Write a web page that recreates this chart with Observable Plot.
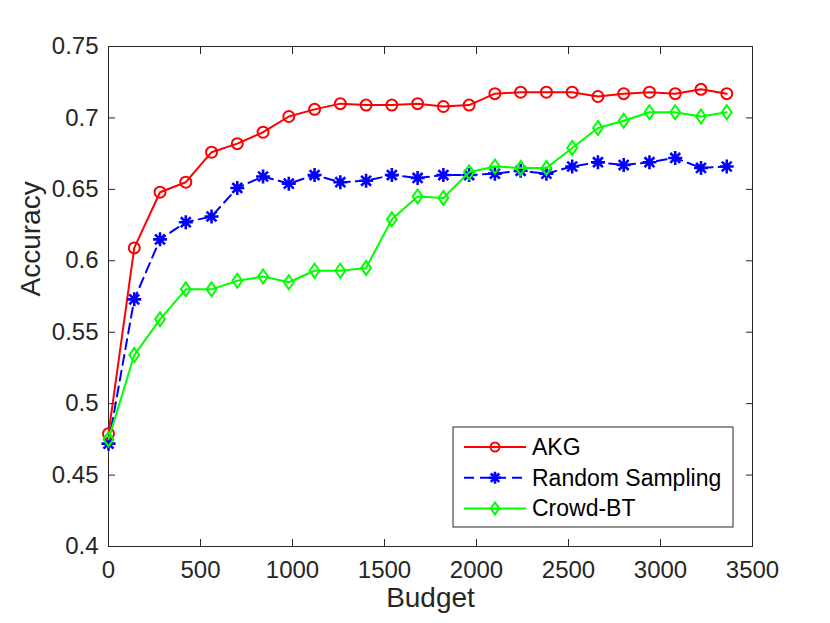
<!DOCTYPE html>
<html>
<head>
<meta charset="utf-8">
<script src="https://cdn.jsdelivr.net/npm/d3@7"></script>
<script src="https://cdn.jsdelivr.net/npm/@observablehq/plot@0.6"></script>
<style>
  html, body { margin: 0; padding: 0; background: #fff; }
  #chart { width: 830px; height: 623px; }
</style>
</head>
<body>
<div id="chart"></div>
<script>
const budgets = [0, 140, 280, 420, 560, 700, 840, 980, 1120, 1260, 1400, 1540, 1680,
                 1820, 1960, 2100, 2240, 2380, 2520, 2660, 2800, 2940, 3080, 3220, 3360];
const akg = [0.479, 0.609, 0.648, 0.655, 0.676, 0.682, 0.690, 0.701, 0.706, 0.710, 0.709, 0.709, 0.710,
             0.708, 0.709, 0.717, 0.718, 0.718, 0.718, 0.715, 0.717, 0.718, 0.717, 0.720, 0.717];
const randomSampling = [0.472, 0.573, 0.615, 0.627, 0.631, 0.651, 0.659, 0.654, 0.660, 0.655, 0.656, 0.660, 0.658,
                        0.660, 0.660, 0.661, 0.663, 0.661, 0.666, 0.669, 0.667, 0.669, 0.672, 0.665, 0.666];
const crowdBT = [0.475, 0.534, 0.559, 0.580, 0.580, 0.586, 0.589, 0.585, 0.593, 0.593, 0.595, 0.629, 0.645,
                 0.644, 0.662, 0.666, 0.665, 0.665, 0.679, 0.693, 0.698, 0.704, 0.704, 0.701, 0.704];
const seriesNames = ["AKG", "Random Sampling", "Crowd-BT"];
const xTicks = [0, 500, 1000, 1500, 2000, 2500, 3000, 3500];
const yTicks = [0.4, 0.45, 0.5, 0.55, 0.6, 0.65, 0.7, 0.75];
const xLabel = "Budget";
const yLabel = "Accuracy";

const seriesValues = [akg, randomSampling, crowdBT];
const colors = ["#ff0000", "#0000ff", "#00ff00"];
const dashes = [null, "10,6", null];

// MATLAB-like marker shapes; size -> r = sqrt(size / PI) is the half-extent
const markerCircle = {draw(ctx, size) { const r = Math.sqrt(size / Math.PI); ctx.moveTo(r, 0); ctx.arc(0, 0, r, 0, 2 * Math.PI); }};
const markerAsterisk = {draw(ctx, size) {
  const r = Math.sqrt(size / Math.PI), q = r * Math.SQRT1_2;
  ctx.moveTo(-r, 0); ctx.lineTo(r, 0);
  ctx.moveTo(0, -r); ctx.lineTo(0, r);
  ctx.moveTo(-q, -q); ctx.lineTo(q, q);
  ctx.moveTo(-q, q); ctx.lineTo(q, -q);
}};
const markerDiamond = {draw(ctx, size) {
  const h = Math.sqrt(size / Math.PI), w = h * 0.7;
  ctx.moveTo(0, -h); ctx.lineTo(w, 0); ctx.lineTo(0, h); ctx.lineTo(-w, 0); ctx.closePath();
}};
const symbols = [markerCircle, markerAsterisk, markerDiamond];
const symbolR = [5.5, 7, 7];

const rows = seriesValues.map((vals, s) => vals.map((v, i) => ({series: seriesNames[s], budget: budgets[i], acc: v})));

const axisColor = "#262626";
const marks = [];
marks.push(Plot.axisX({ticks: xTicks, tickSize: 0, tickPadding: 14, tickFormat: d => String(d), label: null}));
marks.push(Plot.axisX({ticks: xTicks, tickSize: -7, text: null, label: null}));
marks.push(Plot.axisX({ticks: xTicks, anchor: "top", tickSize: -7, text: null, label: null}));
marks.push(Plot.axisY({ticks: yTicks, tickSize: 0, tickPadding: 10, tickFormat: d => String(+d.toFixed(2)), label: null}));
marks.push(Plot.axisY({ticks: yTicks, tickSize: -7, text: null, label: null}));
marks.push(Plot.axisY({ticks: yTicks, anchor: "right", tickSize: -7, text: null, label: null}));
marks.push(Plot.frame({stroke: axisColor, strokeWidth: 1}));
rows.forEach((data, s) => {
  marks.push(Plot.line(data, {x: "budget", y: "acc", stroke: colors[s], strokeWidth: 2, strokeDasharray: dashes[s]}));
  marks.push(Plot.dot(data, {x: "budget", y: "acc", symbol: symbols[s], r: symbolR[s], stroke: colors[s], strokeWidth: s === 1 ? 2.6 : 2, fill: "none"}));
});
marks.push(Plot.text([xLabel], {text: d => d, frameAnchor: "bottom", dy: 60, fontSize: 28, fill: axisColor}));
marks.push(Plot.text([yLabel], {text: d => d, frameAnchor: "left", dx: -77, rotate: -90, fontSize: 28, fill: axisColor}));

const chart = Plot.plot({
  width: 830,
  height: 623,
  marginLeft: 108,
  marginRight: 78,
  marginTop: 46,
  marginBottom: 77,
  style: {fontFamily: "'Liberation Sans', Arial, Helvetica, sans-serif", fontSize: "24px", color: axisColor, background: "#fff", overflow: "visible"},
  x: {domain: [0, 3500]},
  y: {domain: [0.4, 0.75]},
  marks
});
document.getElementById("chart").appendChild(chart);

// legend (inside the axes, lower right)
const svg = d3.select(chart);
const lg = svg.append("g").attr("class", "legend");
const box = {x: 453, y: 427, w: 280, h: 100};
lg.append("rect").attr("x", box.x).attr("y", box.y).attr("width", box.w).attr("height", box.h)
  .attr("fill", "#fff").attr("stroke", axisColor).attr("stroke-width", 1);
seriesNames.forEach((name, s) => {
  const cy = 447 + s * 30.7;
  lg.append("line").attr("x1", 464).attr("x2", 526).attr("y1", cy).attr("y2", cy)
    .attr("stroke", colors[s]).attr("stroke-width", 2).attr("stroke-dasharray", dashes[s]);
  const lr = s === 0 ? 4.5 : 6;
  lg.append("path").attr("transform", `translate(495,${cy})`)
    .attr("d", d3.symbol(symbols[s], Math.PI * lr * lr)())
    .attr("fill", "none").attr("stroke", colors[s]).attr("stroke-width", s === 1 ? 2.6 : 2);
  lg.append("text").attr("x", 532).attr("y", cy).attr("dy", "0.35em").attr("text-anchor", "start")
    .attr("fill", "#000").attr("font-size", 23).text(name);
});
</script>
</body>
</html>
